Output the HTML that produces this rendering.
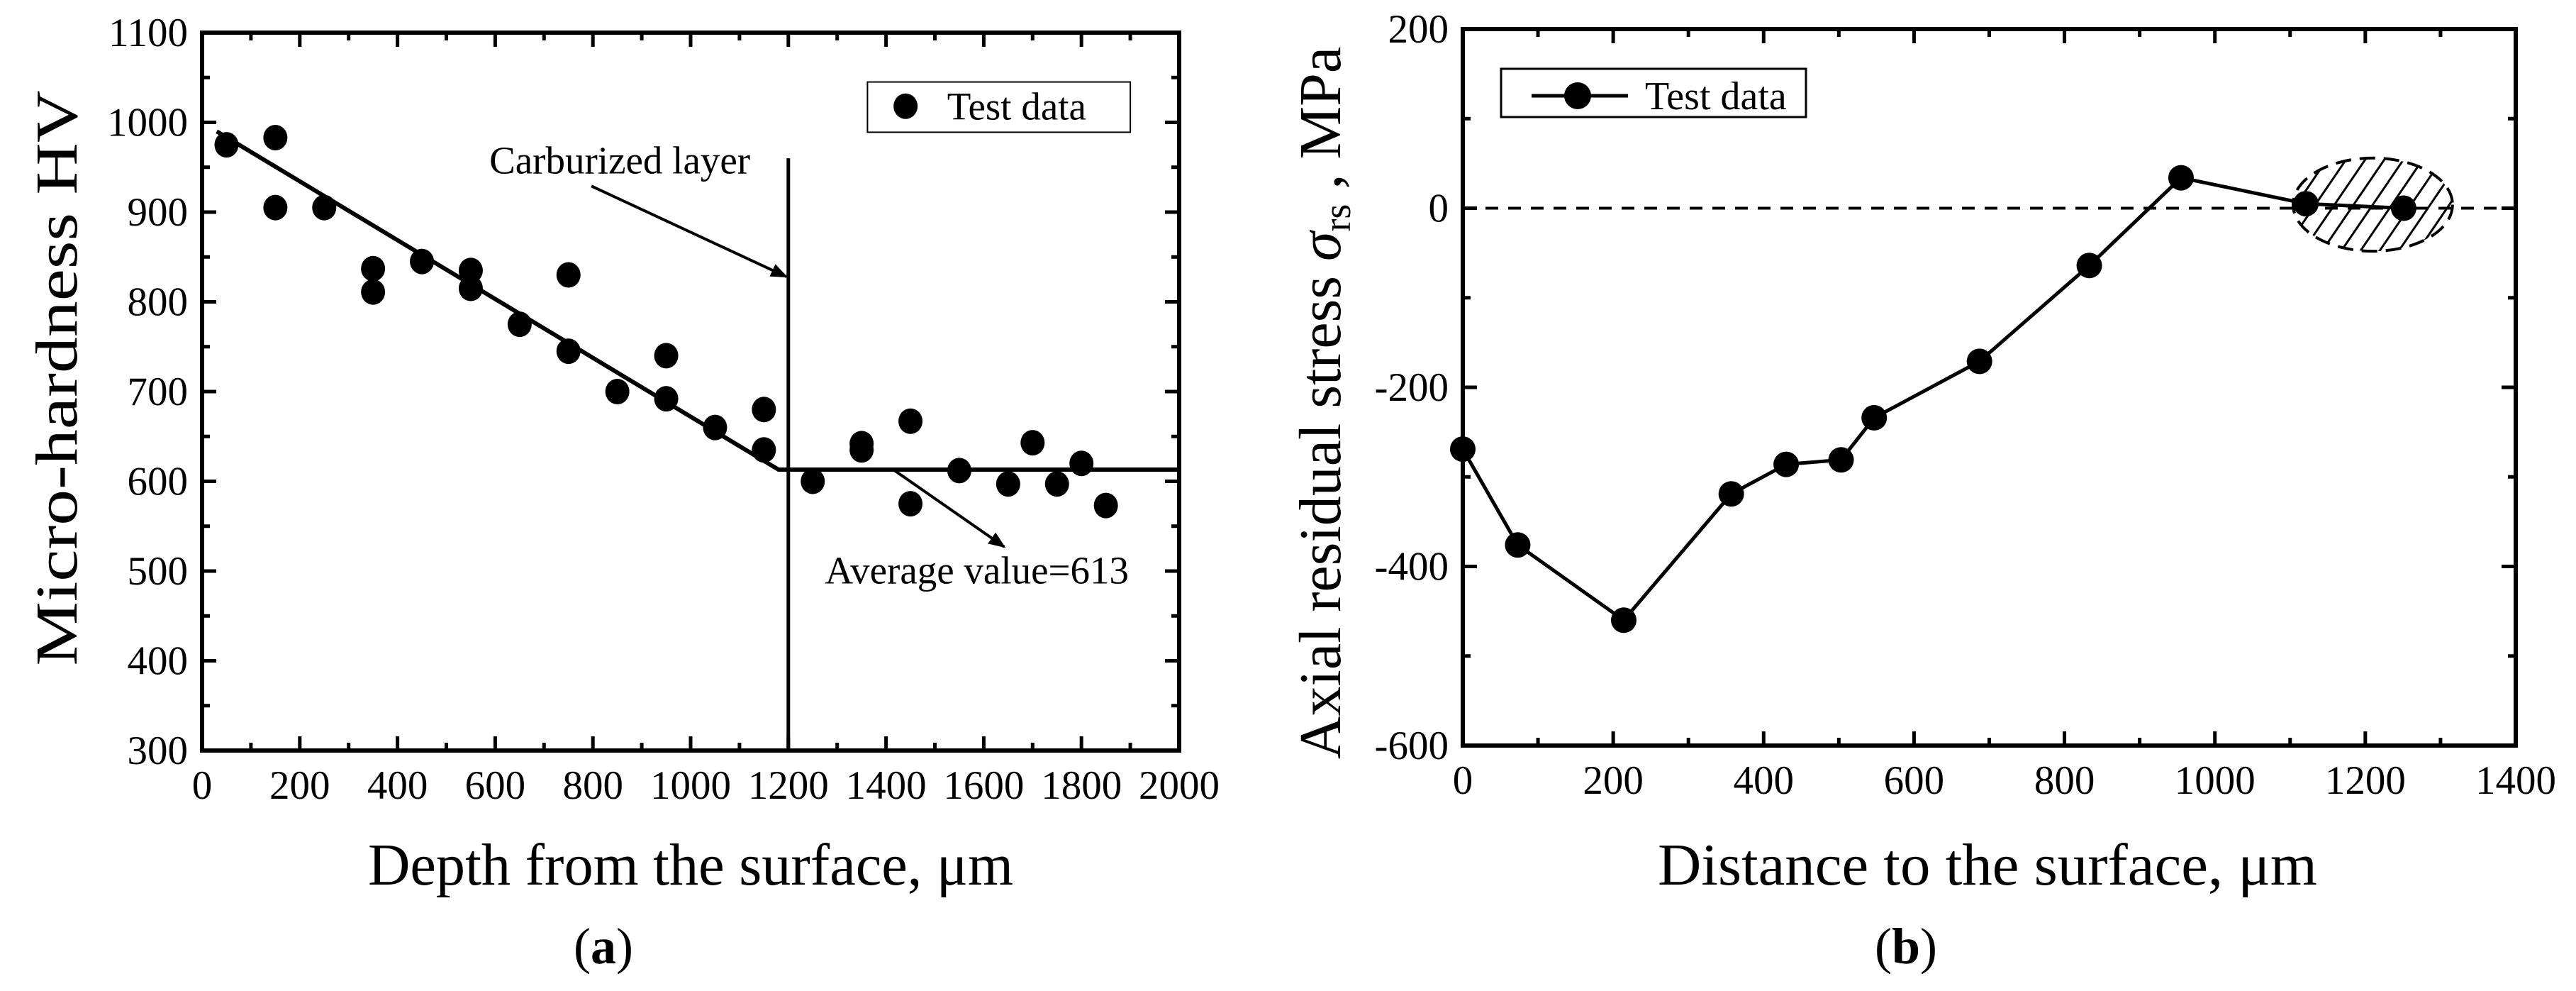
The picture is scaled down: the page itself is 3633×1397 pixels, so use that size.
<!DOCTYPE html>
<html><head><meta charset="utf-8"><style>
html,body{margin:0;padding:0;background:#fff;}
svg{display:block;}
text{font-family:"Liberation Serif",serif;fill:#000;}
</style></head><body>
<svg id="chart" width="3633" height="1397" viewBox="0 0 3633 1397" xmlns="http://www.w3.org/2000/svg">
<defs>
<marker id="arr" viewBox="0 0 10 10" refX="9" refY="5" markerWidth="6" markerHeight="6" orient="auto"><path d="M0,1 L10,5 L0,9 z" fill="#000"/></marker>
</defs>
<g id="pa"></g>
<g id="pb"></g>
</svg>
<script>
// Panel (a) data
const aDepth = [50,150,150,250,350,350,450,550,550,650,750,750,850,950,950,1050,1150,1150,1250,1350,1350,1450,1450,1550,1650,1700,1750,1800,1850];
const aHardness = [975,983,905,905,837,811,845,835,815,775,830,745,700,740,692,660,680,635,600,642,635,667,575,612,597,643,597,620,573];
const aFitX = [30,1180,2000];
const aFitY = [990,613,613];
const aXTicks = [0,200,400,600,800,1000,1200,1400,1600,1800,2000];
const aYTicks = [300,400,500,600,700,800,900,1000,1100];
// Panel (b) data
const bDist = [0,73,214,357,430,503,547,687,833,955,1121,1251];
const bStress = [-269,-376,-460,-319,-286,-281,-234,-171,-64,34,5,0];
const bXTicks = [0,200,400,600,800,1000,1200,1400];
const bYTicks = [-600,-400,-200,0,200];

const NS='http://www.w3.org/2000/svg';
function mk(parent,tag,attrs,txt){const e=document.createElementNS(NS,tag);for(const k in attrs)e.setAttribute(k,attrs[k]);if(txt!==undefined)e.textContent=txt;parent.appendChild(e);return e;}

const A={x0:285,x1:1663,y0:1058,y1:46,xmin:0,xmax:2000,ymin:300,ymax:1100};
const B={x0:2063,x1:3548,y0:1051,y1:41,xmin:0,xmax:1400,ymin:-600,ymax:200};
function sx(P,v){return P.x0+(v-P.xmin)/(P.xmax-P.xmin)*(P.x1-P.x0);}
function sy(P,v){return P.y0-(v-P.ymin)/(P.ymax-P.ymin)*(P.y0-P.y1);}

function frame(g,P,xt,yt,xminor,yminor,name){
  const fr=mk(g,'rect',{x:P.x0,y:P.y1,width:P.x1-P.x0,height:P.y0-P.y1,fill:'none',stroke:'#000','stroke-width':6});
  
  
  for(let v=P.xmin;v<=P.xmax+1e-9;v+=xminor){
    const x=sx(P,v);const major=xt.some(t=>Math.abs(t-v)<1e-6);const L=major?20:11;
    mk(g,'line',{x1:x,y1:P.y0,x2:x,y2:P.y0-L,stroke:'#000','stroke-width':5});
    mk(g,'line',{x1:x,y1:P.y1,x2:x,y2:P.y1+L,stroke:'#000','stroke-width':5});
  }
  for(let v=P.ymin;v<=P.ymax+1e-9;v+=yminor){
    const y=sy(P,v);const major=yt.some(t=>Math.abs(t-v)<1e-6);const L=major?20:11;
    mk(g,'line',{x1:P.x0,y1:y,x2:P.x0+L,y2:y,stroke:'#000','stroke-width':5});
    mk(g,'line',{x1:P.x1,y1:y,x2:P.x1-L,y2:y,stroke:'#000','stroke-width':5});
  }
  xt.forEach(t=>{const e=mk(g,'text',{x:sx(P,t),y:P.y0+68,'font-size':57,'text-anchor':'middle'},t);
    
    });
  yt.forEach(t=>{const e=mk(g,'text',{x:P.x0-20,y:sy(P,t)+19,'font-size':57,'text-anchor':'end'},t);
    
    });
}

// ---- Panel A
const ga=document.getElementById('pa');
frame(ga,A,aXTicks,aYTicks,100,50,'panel-a');
let d='';aFitX.forEach((v,i)=>{d+=(i?'L':'M')+sx(A,v)+','+sy(A,aFitY[i]);});
const fit=mk(ga,'path',{d:d,fill:'none',stroke:'#000','stroke-width':6});


const vl=mk(ga,'line',{x1:sx(A,1200),y1:sy(A,960),x2:sx(A,1200),y2:A.y0,stroke:'#000','stroke-width':5});


aDepth.forEach((v,i)=>{const c=mk(ga,'ellipse',{cx:sx(A,v),cy:sy(A,aHardness[i]),rx:17,ry:18,fill:'#000'});
  
  });
const ar1=mk(ga,'line',{x1:sx(A,797),y1:sy(A,929),x2:sx(A,1196),y2:sy(A,828),stroke:'#000','stroke-width':4,'marker-end':'url(#arr)'});


const t1=mk(ga,'text',{x:sx(A,855),y:sy(A,943),'font-size':55,'text-anchor':'middle'},'Carburized layer');


const ar2=mk(ga,'line',{x1:sx(A,1415),y1:sy(A,613),x2:sx(A,1642),y2:sy(A,527),stroke:'#000','stroke-width':4,'marker-end':'url(#arr)'});


const t2=mk(ga,'text',{x:sx(A,1586),y:sy(A,486),'font-size':55,'text-anchor':'middle'},'Average value=613');


const lga=mk(ga,'g',{});


mk(lga,'rect',{x:sx(A,1362),y:sy(A,1045),width:sx(A,1900)-sx(A,1362),height:sy(A,989)-sy(A,1045),fill:'#fff',stroke:'#000','stroke-width':2});
mk(lga,'ellipse',{cx:sx(A,1440),cy:sy(A,1018),rx:17,ry:18,fill:'#000'});
mk(lga,'text',{x:sx(A,1525),y:sy(A,1003),'font-size':55},'Test data');
const xa=mk(ga,'text',{x:974,y:1247,'font-size':84,'text-anchor':'middle',textLength:910,lengthAdjust:'spacingAndGlyphs'},'Depth from the surface, μm');


const ya=mk(ga,'text',{x:0,y:0,'font-size':84,'text-anchor':'middle',textLength:811,lengthAdjust:'spacingAndGlyphs',transform:'translate(108,533) rotate(-90)'},'Micro-hardness HV');


const ca=mk(ga,'text',{x:851,y:1358,'font-size':72,'text-anchor':'middle'});


mk(ca,'tspan',{},'(');mk(ca,'tspan',{'font-weight':'bold'},'a');mk(ca,'tspan',{},')');

// ---- Panel B
const gb=document.getElementById('pb');
frame(gb,B,bXTicks,bYTicks,100,100,'panel-b');
const zl=mk(gb,'line',{x1:B.x0,y1:sy(B,0),x2:B.x1,y2:sy(B,0),stroke:'#000','stroke-width':4,'stroke-dasharray':'18,14'});


const ecx=sx(B,1210), ecy=sy(B,4), erx=sx(B,1316)-sx(B,1210), ery=sy(B,-48)-sy(B,4);
const defs=document.querySelector('defs');
const cp=mk(defs,'clipPath',{id:'ellclip'});
mk(cp,'ellipse',{cx:ecx,cy:ecy,rx:erx,ry:ery});
const eg=mk(gb,'g',{});


const hg=mk(eg,'g',{'clip-path':'url(#ellclip)'});
for(let k=-9;k<=9;k++){const cx=ecx+k*27;mk(hg,'line',{x1:cx-75,y1:ecy+110,x2:cx+75,y2:ecy-110,stroke:'#000','stroke-width':3});}
mk(eg,'ellipse',{cx:ecx,cy:ecy,rx:erx,ry:ery,fill:'none',stroke:'#000','stroke-width':4,'stroke-dasharray':'22,12'});
let db='';bDist.forEach((v,i)=>{db+=(i?'L':'M')+sx(B,v)+','+sy(B,bStress[i]);});
const sl=mk(gb,'path',{d:db,fill:'none',stroke:'#000','stroke-width':5});


bDist.forEach((v,i)=>{const c=mk(gb,'ellipse',{cx:sx(B,v),cy:sy(B,bStress[i]),rx:18,ry:18,fill:'#000'});
  
  });
const lgb=mk(gb,'g',{});


mk(lgb,'rect',{x:2117,y:97,width:430,height:68,fill:'#fff',stroke:'#000','stroke-width':3});
mk(lgb,'line',{x1:2160,y1:135,x2:2296,y2:135,stroke:'#000','stroke-width':5});
mk(lgb,'ellipse',{cx:2225,cy:135,rx:19,ry:19,fill:'#000'});
mk(lgb,'text',{x:2320,y:154,'font-size':56},'Test data');
const xb=mk(gb,'text',{x:2803,y:1247,'font-size':84,'text-anchor':'middle',textLength:930,lengthAdjust:'spacingAndGlyphs'},'Distance to the surface, μm');


const yb=mk(gb,'text',{x:0,y:0,'font-size':84,'text-anchor':'middle',transform:'translate(1890,568) rotate(-90)'});


mk(yb,'tspan',{},'Axial residual stress ');mk(yb,'tspan',{'font-style':'italic'},'σ');
mk(yb,'tspan',{'font-size':54,dy:14},'rs');mk(yb,'tspan',{dy:-14},' , MPa');
const cb=mk(gb,'text',{x:2688,y:1358,'font-size':72,'text-anchor':'middle'});


mk(cb,'tspan',{},'(');mk(cb,'tspan',{'font-weight':'bold'},'b');mk(cb,'tspan',{},')');
</script>
</body></html>
